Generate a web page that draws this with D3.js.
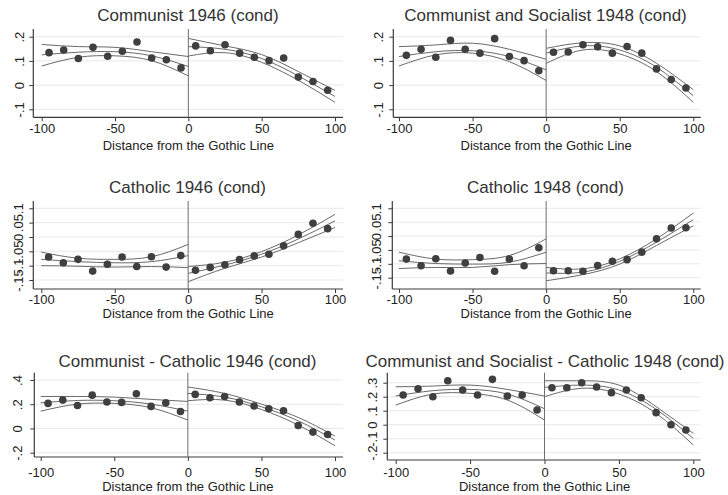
<!DOCTYPE html>
<html><head><meta charset="utf-8">
<script src="https://cdn.jsdelivr.net/npm/d3@7"></script>
<style>
body{margin:0;background:#fff;}
svg{display:block;font-family:"Liberation Sans",Arial,Helvetica,sans-serif;}
</style>
</head><body>
<svg id="chart" width="728" height="495"></svg>
<script>
// ---------------- data ----------------
const binX = [-95,-85,-75,-65,-55,-45,-35,-25,-15,-5,5,15,25,35,45,55,65,75,85,95];
const fitXLeft = [-100,-75,-50,-25,0];
const fitXRight = [0,25,50,75,100];
const xTicks = [-100,-50,0,50,100];
const xTickLabels = ["-100","-50","0","50","100"];
const xAxisTitle = "Distance from the Gothic Line";
const panelTitles = [
  "Communist 1946 (cond)",
  "Communist and Socialist 1948 (cond)",
  "Catholic 1946 (cond)",
  "Catholic 1948 (cond)",
  "Communist - Catholic 1946 (cond)",
  "Communist and Socialist - Catholic 1948 (cond)"
];

// y ticks
const yTicksA = [-0.1,0,0.1,0.2];
const yLabelsA = ["-.1","0",".1",".2"];
const yTicksB = [-0.15,-0.1,-0.05,0,0.05,0.1];
const yLabelsB = ["-.15","-.1","-.05","0",".05",".1"];
const yTicksC = [-0.2,0,0.2,0.4];
const yLabelsC = ["-.2","0",".2",".4"];
const yTicksD = [-0.2,-0.1,0,0.1,0.2,0.3];
const yLabelsD = ["-.2","-.1","0",".1",".2",".3"];

// binned means
const com46Points = [0.134,0.145,0.110,0.156,0.119,0.140,0.178,0.112,0.105,0.071,0.162,0.142,0.167,0.132,0.115,0.101,0.112,0.033,0.015,-0.021];
const cs48Points = [0.123,0.148,0.115,0.185,0.148,0.132,0.192,0.118,0.101,0.059,0.136,0.137,0.167,0.158,0.132,0.159,0.132,0.067,0.023,-0.012];
const cat46Points = [-0.070,-0.090,-0.078,-0.119,-0.095,-0.070,-0.103,-0.069,-0.105,-0.065,-0.116,-0.106,-0.097,-0.079,-0.066,-0.060,-0.031,0.009,0.048,0.029];
const cat48Points = [-0.083,-0.107,-0.082,-0.126,-0.097,-0.077,-0.127,-0.083,-0.107,-0.042,-0.125,-0.125,-0.127,-0.106,-0.091,-0.085,-0.058,-0.010,0.029,0.030];
const comCat46Points = [0.207,0.234,0.190,0.275,0.218,0.215,0.286,0.182,0.212,0.140,0.281,0.253,0.264,0.218,0.185,0.163,0.146,0.025,-0.030,-0.050];
const csCat48Points = [0.212,0.257,0.200,0.314,0.248,0.212,0.324,0.205,0.212,0.105,0.264,0.264,0.300,0.269,0.229,0.248,0.193,0.086,0.000,-0.038];

// fitted curves [upper CI, fit, lower CI], read at fitXLeft / fitXRight
const com46FitLeft = [[0.168,0.159,0.156,0.138,0.118],[0.125,0.136,0.138,0.121,0.077],[0.079,0.115,0.121,0.101,0.038]];
const com46FitRight = [[0.193,0.162,0.126,0.056,-0.022],[0.159,0.148,0.110,0.038,-0.047],[0.120,0.134,0.094,0.020,-0.071]];
const cs48FitLeft = [[0.159,0.166,0.173,0.148,0.107],[0.118,0.138,0.142,0.118,0.063],[0.079,0.125,0.132,0.097,0.019]];
const cs48FitRight = [[0.152,0.175,0.162,0.090,-0.019],[0.132,0.162,0.145,0.074,-0.044],[0.090,0.145,0.129,0.056,-0.071]];
const cat46FitLeft = [[-0.053,-0.074,-0.078,-0.069,-0.026],[-0.078,-0.086,-0.090,-0.086,-0.065],[-0.100,-0.102,-0.105,-0.103,-0.107]];
const cat46FitRight = [[-0.103,-0.088,-0.051,0.007,0.079],[-0.127,-0.098,-0.060,-0.007,0.056],[-0.156,-0.109,-0.070,-0.020,0.033]];
const cat48FitLeft = [[-0.058,-0.083,-0.085,-0.070,-0.010],[-0.089,-0.099,-0.101,-0.094,-0.058],[-0.117,-0.113,-0.113,-0.103,-0.099]];
const cat48FitRight = [[-0.113,-0.118,-0.082,-0.010,0.083],[-0.133,-0.130,-0.091,-0.022,0.059],[-0.161,-0.139,-0.101,-0.034,0.037]];
const comCat46FitLeft = [[0.264,0.264,0.259,0.240,0.223],[0.212,0.231,0.229,0.201,0.143],[0.143,0.201,0.207,0.171,0.069]];
const comCat46FitRight = [[0.342,0.289,0.201,0.091,-0.063],[0.289,0.259,0.179,0.063,-0.096],[0.229,0.234,0.157,0.028,-0.143]];
const csCat48FitLeft = [[0.271,0.276,0.283,0.252,0.205],[0.205,0.243,0.252,0.219,0.114],[0.140,0.219,0.224,0.176,0.033]];
const csCat48FitRight = [[0.314,0.314,0.283,0.129,-0.062],[0.267,0.283,0.248,0.110,-0.098],[0.200,0.260,0.219,0.081,-0.145]];

// ---------------- layout ----------------
const panels = [
  {pts:com46Points, fl:com46FitLeft, fr:com46FitRight, yt:yTicksA, yl:yLabelsA,
   x0:41.7, x1:335, axisX:33.3, gridR:343, top:29, bottom:117.3, yLo:-0.1, pLo:109.3, yHi:0.2, pHi:36.7,
   titleX:188, titleY:20.5, tickY:133, axTitleY:150, yLabBase:23.5},
  {pts:cs48Points, fl:cs48FitLeft, fr:cs48FitRight, yt:yTicksA, yl:yLabelsA,
   x0:399, x1:693.3, axisX:393.3, gridR:700.7, top:29, bottom:117.3, yLo:-0.1, pLo:109.3, yHi:0.2, pHi:36.7,
   titleX:545.5, titleY:20.5, tickY:133, axTitleY:150, yLabBase:382.5},
  {pts:cat46Points, fl:cat46FitLeft, fr:cat46FitRight, yt:yTicksB, yl:yLabelsB,
   x0:41.3, x1:335, axisX:33.3, gridR:343, top:201, bottom:289, yLo:-0.15, pLo:280, yHi:0.1, pHi:208.3,
   titleX:187.5, titleY:193, tickY:304, axTitleY:318, yLabBase:23.3},
  {pts:cat48Points, fl:cat48FitLeft, fr:cat48FitRight, yt:yTicksB, yl:yLabelsB,
   x0:399, x1:693.3, axisX:392.3, gridR:700.7, top:201, bottom:289, yLo:-0.15, pLo:277.7, yHi:0.1, pHi:208.3,
   titleX:545.5, titleY:193, tickY:304, axTitleY:318, yLabBase:381},
  {pts:comCat46Points, fl:comCat46FitLeft, fr:comCat46FitRight, yt:yTicksC, yl:yLabelsC,
   x0:40.7, x1:335, axisX:34.3, gridR:343, top:372.7, bottom:457, yLo:-0.2, pLo:452.7, yHi:0.4, pHi:380,
   titleX:187.5, titleY:367, tickY:477, axTitleY:490.5, yLabBase:22},
  {pts:csCat48Points, fl:csCat48FitLeft, fr:csCat48FitRight, yt:yTicksD, yl:yLabelsD,
   x0:395.7, x1:693.3, axisX:387.3, gridR:700.7, top:372.7, bottom:460, yLo:-0.2, pLo:452.7, yHi:0.3, pHi:382.7,
   titleX:545, titleY:367, tickY:477, axTitleY:490.5, yLabBase:377}
];

const svg = d3.select("#chart");
svg.append("rect").attr("width",728).attr("height",495).attr("fill","#fff");

const TEXT = "#222";
const TITLE = "#333";
const GRID = "#e9e9e9";
const AXIS = "#3a3a3a";
const FIT = "#6a6a6a";
const MARK = "#3f3f3f";
const tickFs = 13;

panels.forEach((p, i) => {
  const x = d3.scaleLinear().domain([-100,100]).range([p.x0,p.x1]);
  const y = d3.scaleLinear().domain([p.yLo,p.yHi]).range([p.pLo,p.pHi]);
  const g = svg.append("g");

  // gridlines
  g.selectAll("line.grid").data(p.yt).enter().append("line")
    .attr("x1",p.axisX).attr("x2",p.gridR)
    .attr("y1",d=>y(d)).attr("y2",d=>y(d))
    .attr("stroke",GRID).attr("stroke-width",1);

  // x axis
  const xa = g.append("g").attr("transform",`translate(0,${p.bottom})`)
    .call(d3.axisBottom(x).tickValues(xTicks).tickSize(4).tickSizeOuter(0)
      .tickFormat((d,j)=>xTickLabels[j]));
  xa.select(".domain").remove();
  xa.selectAll(".tick line").attr("stroke",AXIS);
  xa.selectAll(".tick text").attr("y", p.tickY - p.bottom).attr("dy",0)
    .attr("fill",TEXT).style("font-size",tickFs+"px")
    .style("font-family",'"Liberation Sans",Arial,sans-serif');
  g.append("line").attr("x1",p.axisX).attr("x2",p.gridR)
    .attr("y1",p.bottom).attr("y2",p.bottom).attr("stroke",AXIS).attr("stroke-width",1.2);

  // y axis
  const ya = g.append("g").attr("transform",`translate(${p.axisX},0)`)
    .call(d3.axisLeft(y).tickValues(p.yt).tickSize(4).tickSizeOuter(0)
      .tickFormat((d,j)=>p.yl[j]));
  ya.select(".domain").remove();
  ya.selectAll(".tick line").attr("stroke",AXIS);
  ya.selectAll(".tick text")
    .attr("x",null).attr("dy",null)
    .attr("transform",`translate(${p.yLabBase - p.axisX},0) rotate(-90)`)
    .attr("text-anchor","middle")
    .attr("fill",TEXT).style("font-size",tickFs+"px")
    .style("font-family",'"Liberation Sans",Arial,sans-serif');
  g.append("line").attr("x1",p.axisX).attr("x2",p.axisX)
    .attr("y1",p.top).attr("y2",p.bottom).attr("stroke",AXIS).attr("stroke-width",1.2);

  // cutoff line at 0
  g.append("line").attr("x1",x(0)).attr("x2",x(0))
    .attr("y1",p.top).attr("y2",p.bottom).attr("stroke","#6e6e6e").attr("stroke-width",1);

  // fitted curves
  const line = d3.line().curve(d3.curveNatural);
  const drawSide = (xs, sets) => {
    sets.forEach(vals => {
      g.append("path")
        .attr("d", line(xs.map((xv,k)=>[x(xv), y(vals[k])])))
        .attr("fill","none").attr("stroke",FIT).attr("stroke-width",1);
    });
  };
  drawSide(fitXLeft, p.fl);
  drawSide(fitXRight, p.fr);

  // points
  g.selectAll("circle").data(p.pts).enter().append("circle")
    .attr("cx",(d,j)=>x(binX[j])).attr("cy",d=>y(d))
    .attr("r",3.8).attr("fill",MARK);

  // titles
  g.append("text").attr("x",p.titleX).attr("y",p.titleY)
    .attr("text-anchor","middle").attr("fill",TITLE)
    .style("font-size","17px").text(panelTitles[i]);
  g.append("text").attr("x",(p.x0+p.x1)/2).attr("y",p.axTitleY)
    .attr("text-anchor","middle").attr("fill",TEXT)
    .style("font-size","13px").text(xAxisTitle);
});
</script>
</body></html>
